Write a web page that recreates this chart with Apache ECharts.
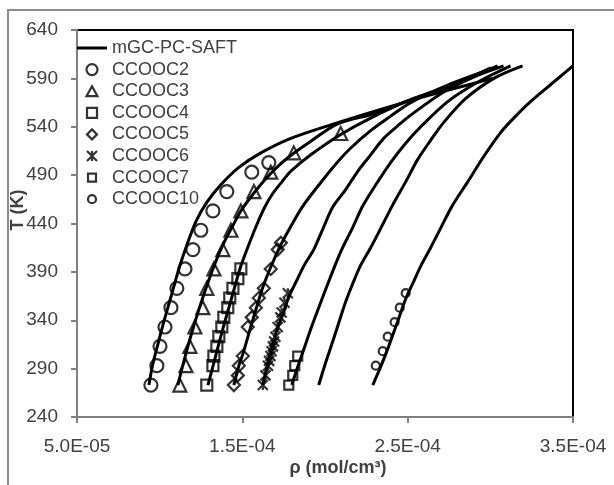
<!DOCTYPE html>
<html>
<head>
<meta charset="utf-8">
<title>mGC-PC-SAFT density</title>
<script src="https://cdn.jsdelivr.net/npm/echarts@6/dist/echarts.min.js"></script>
<style>
    html, body { margin: 0; padding: 0; background: #fff; }
    #densityChart { width: 614px; height: 485px; }
</style>
</head>
<body>
<div id="densityChart"></div>
<script>
// density values are stored in units of 1e-4 mol/cm3, temperatures in K

// axis ticks
const rhoTicks = [0.5, 1.5, 2.5, 3.5];
const tTicks = [240, 290, 340, 390, 440, 490, 540, 590, 640];

// mGC-PC-SAFT curves, [rho, T]
const curveC2 = [[0.935, 273], [0.959, 295], [0.989, 315], [1.026, 339], [1.068, 364], [1.116, 393], [1.165, 418], [1.219, 442], [1.286, 462], [1.370, 480], [1.479, 498], [1.612, 513], [1.793, 528], [2.035, 542], [2.337, 558], [2.639, 573], [2.881, 584], [3.014, 590]];
const curveC3 = [[1.110, 273], [1.147, 298], [1.189, 324], [1.237, 351], [1.292, 379], [1.340, 401], [1.388, 420], [1.443, 438], [1.491, 453], [1.563, 470], [1.630, 484], [1.702, 497], [1.775, 508], [1.914, 525], [2.077, 543], [2.307, 554], [2.518, 568], [2.760, 582], [3.002, 601]];
const curveC4 = [[1.292, 273], [1.334, 300], [1.382, 331], [1.437, 364], [1.491, 396], [1.539, 418], [1.588, 439], [1.636, 457], [1.684, 471], [1.739, 483], [1.793, 494], [1.914, 511], [2.095, 532], [2.276, 549], [2.518, 568], [2.760, 583], [3.044, 603]];
const curveC5 = [[1.449, 273], [1.479, 293], [1.503, 305], [1.539, 326], [1.582, 351], [1.624, 374], [1.672, 395], [1.733, 418], [1.793, 437], [1.866, 458], [1.950, 477], [2.053, 499], [2.156, 518], [2.276, 536], [2.397, 551], [2.518, 565], [2.742, 583], [3.044, 602]];
const curveC6 = [[1.624, 273], [1.654, 295], [1.684, 315], [1.715, 333], [1.745, 346], [1.781, 364], [1.823, 379], [1.878, 398], [1.932, 413], [1.986, 434], [2.047, 457], [2.125, 475], [2.198, 494], [2.276, 511], [2.355, 528], [2.440, 541], [2.518, 552], [2.718, 576], [2.923, 593], [3.080, 603]];
const curveC7 = [[1.799, 273], [1.835, 292], [1.872, 310], [1.914, 331], [1.962, 353], [2.011, 375], [2.059, 396], [2.101, 413], [2.168, 436], [2.228, 458], [2.307, 480], [2.397, 503], [2.488, 523], [2.579, 540], [2.742, 566], [2.923, 586], [3.122, 603]];
const curveC8 = [[1.962, 273], [1.998, 293], [2.035, 312], [2.077, 334], [2.125, 359], [2.168, 378], [2.216, 397], [2.276, 415], [2.343, 437], [2.409, 459], [2.488, 483], [2.560, 506], [2.639, 526], [2.711, 543], [2.850, 569], [3.032, 591], [3.195, 603]];
const curveC10 = [[2.289, 273], [2.337, 292], [2.385, 313], [2.440, 339], [2.488, 362], [2.536, 380], [2.585, 398], [2.639, 415], [2.705, 437], [2.772, 459], [2.863, 483], [2.959, 509], [3.062, 534], [3.153, 551], [3.243, 566], [3.382, 586], [3.500, 603]];

// experimental points
const tC2 = [273, 293, 313, 333, 353, 373, 393, 413, 433, 453, 473, 493, 503];
const rhoC2 = [0.947, 0.983, 1.002, 1.032, 1.068, 1.104, 1.153, 1.201, 1.249, 1.322, 1.406, 1.557, 1.660];
const tC3 = [273, 293, 313, 333, 353, 373, 393, 413, 433, 453, 473, 493, 513, 533];
const rhoC3 = [1.122, 1.159, 1.183, 1.213, 1.261, 1.285, 1.328, 1.382, 1.431, 1.491, 1.570, 1.672, 1.811, 2.095];
const tC4 = [273, 293, 303, 313, 323, 333, 343, 353, 363, 373, 383, 393];
const rhoC4 = [1.285, 1.322, 1.328, 1.346, 1.358, 1.376, 1.388, 1.412, 1.424, 1.443, 1.473, 1.491];
const tC5 = [273, 283, 293, 303, 333, 343, 353, 363, 373, 393, 413, 420];
const rhoC5 = [1.449, 1.473, 1.479, 1.503, 1.533, 1.557, 1.582, 1.600, 1.630, 1.672, 1.714, 1.733];
const tC6 = [273, 283, 293, 298, 303, 308, 313, 318, 323, 333, 343, 348, 358, 368];
const rhoC6 = [1.624, 1.640, 1.655, 1.662, 1.670, 1.677, 1.685, 1.692, 1.700, 1.714, 1.730, 1.738, 1.755, 1.775];
const tC7 = [273, 283, 293, 303];
const rhoC7 = [1.781, 1.805, 1.817, 1.835];
const tC10 = [293, 308, 323, 338, 353, 368];
const rhoC10 = [2.307, 2.349, 2.379, 2.421, 2.452, 2.488];

const modelName = 'mGC-PC-SAFT';
const compoundNames = ['CCOOC2', 'CCOOC3', 'CCOOC4', 'CCOOC5', 'CCOOC6', 'CCOOC7', 'CCOOC10'];

document.addEventListener('DOMContentLoaded', function() {
    initDensityChart();
});

// 1.5 -> "1.5E-04"
function sciLabel(v) {
    const real = v * 1e-4;
    const e = Math.floor(Math.log10(real) + 1e-9);
    const m = real / Math.pow(10, e);
    return m.toFixed(1) + 'E-' + String(-e).padStart(2, '0');
}

function zipPoints(rho, t) {
    return rho.map((r, i) => [r, t[i]]);
}

function initDensityChart() {
    const el = document.getElementById('densityChart');
    const chart = echarts.init(el);

    const textColor = '#404040';
    const fontFamily = 'Liberation Sans, Arial, sans-serif';
    const starPath = 'path://M0,0L10,10M10,0L0,10M5,0L5,10';
    const markerStyle = { color: 'transparent', borderColor: '#000', borderWidth: 2.2 };

    // legend icons drawn inside a 12x12 box so they keep their size
    const box = 'path://M0,0M12,12';
    const legendIcons = {
        circle: box + 'M11.5,6A5.5,5.5,0,1,1,0.5,6A5.5,5.5,0,1,1,11.5,6Z',
        triangle: box + 'M6,1L11.5,11L0.5,11Z',
        rect: box + 'M1,1H11V11H1Z',
        diamond: box + 'M6,1L11,6L6,11L1,6Z',
        star: box + 'M1,1L11,11M11,1L1,11M6,1L6,11',
        smallRect: box + 'M2,2H10V10H2Z',
        smallCircle: box + 'M10,6A4,4,0,1,1,2,6A4,4,0,1,1,10,6Z'
    };

    // model curves, all in one legend entry
    const curves = [curveC2, curveC3, curveC4, curveC5, curveC6, curveC7, curveC8, curveC10];
    const curveSeries = curves.map(c => ({
        name: modelName,
        type: 'line',
        data: c,
        smooth: 0.3,
        symbol: 'none',
        lineStyle: { color: '#000', width: 3 },
        itemStyle: { color: '#000' },
        z: 2
    }));

    const markerDefs = [
        { name: 'CCOOC2', symbol: 'circle', size: 13, icon: legendIcons.circle, data: zipPoints(rhoC2, tC2) },
        { name: 'CCOOC3', symbol: 'triangle', size: 13, icon: legendIcons.triangle, data: zipPoints(rhoC3, tC3) },
        { name: 'CCOOC4', symbol: 'rect', size: 11, icon: legendIcons.rect, data: zipPoints(rhoC4, tC4) },
        { name: 'CCOOC5', symbol: 'diamond', size: 12, icon: legendIcons.diamond, data: zipPoints(rhoC5, tC5) },
        { name: 'CCOOC6', symbol: starPath, size: 10, icon: legendIcons.star, data: zipPoints(rhoC6, tC6) },
        { name: 'CCOOC7', symbol: 'rect', size: 9, icon: legendIcons.smallRect, data: zipPoints(rhoC7, tC7) },
        { name: 'CCOOC10', symbol: 'circle', size: 8, icon: legendIcons.smallCircle, data: zipPoints(rhoC10, tC10) }
    ];
    const markerSeries = markerDefs.map(d => ({
        name: d.name,
        type: 'scatter',
        data: d.data,
        symbol: d.symbol,
        symbolSize: d.size,
        symbolKeepAspect: true,
        itemStyle: markerStyle,
        z: 3
    }));

    // legend entries with explicit icons
    const legendData = [{
        name: modelName,
        icon: 'path://M0,0H30V3H0Z',
        itemStyle: { color: '#000', borderWidth: 0 }
    }].concat(markerDefs.map(d => ({
        name: d.name,
        icon: d.icon,
        itemStyle: markerStyle
    })));

    const option = {
        backgroundColor: '#fff',
        animation: false,
        textStyle: { fontFamily: fontFamily },
        grid: {
            left: 77, right: 41, top: 30, bottom: 68,
            show: true,
            borderColor: '#000',
            borderWidth: 2
        },
        legend: {
            orient: 'vertical',
            left: 77,
            top: 39,
            padding: 0,
            itemWidth: 30,
            itemHeight: 12,
            itemGap: 3.6,
            symbolKeepAspect: true,
            textStyle: { fontSize: 18, color: textColor },
            data: legendData
        },
        xAxis: {
            type: 'value',
            min: rhoTicks[0],
            max: rhoTicks[rhoTicks.length - 1],
            interval: 1,
            splitLine: { show: false },
            axisLine: { lineStyle: { color: '#808080', width: 2 } },
            axisTick: { show: true, length: 6, lineStyle: { color: '#808080', width: 2 } },
            axisLabel: { formatter: sciLabel, fontSize: 19, color: textColor, margin: 20 }
        },
        yAxis: {
            type: 'value',
            min: tTicks[0],
            max: tTicks[tTicks.length - 1],
            interval: 50,
            splitLine: { show: false },
            axisLine: { show: true, lineStyle: { color: '#808080', width: 2 } },
            axisTick: { show: true, length: 6, lineStyle: { color: '#808080', width: 2 } },
            axisLabel: { fontSize: 19, color: textColor, margin: 19 }
        },
        graphic: [
            {
                // outer frame, only top and left edge visible
                type: 'rect',
                shape: { x: 8, y: 10, width: 800, height: 800 },
                style: { fill: 'none', stroke: '#8c8c8c', lineWidth: 2 },
                silent: true
            },
            {
                type: 'text',
                x: 18, y: 210,
                rotation: Math.PI / 2,
                style: {
                    text: 'T (K)',
                    fill: textColor,
                    font: 'bold 18px ' + fontFamily,
                    align: 'center',
                    verticalAlign: 'middle'
                }
            },
            {
                type: 'text',
                x: 338, y: 468,
                style: {
                    text: 'ρ (mol/cm³)',
                    fill: textColor,
                    font: 'bold 18px ' + fontFamily,
                    align: 'center',
                    verticalAlign: 'middle'
                }
            }
        ],
        series: curveSeries.concat(markerSeries)
    };

    chart.setOption(option);

    window.addEventListener('resize', function() {
        chart.resize();
    });
}
</script>
</body>
</html>
